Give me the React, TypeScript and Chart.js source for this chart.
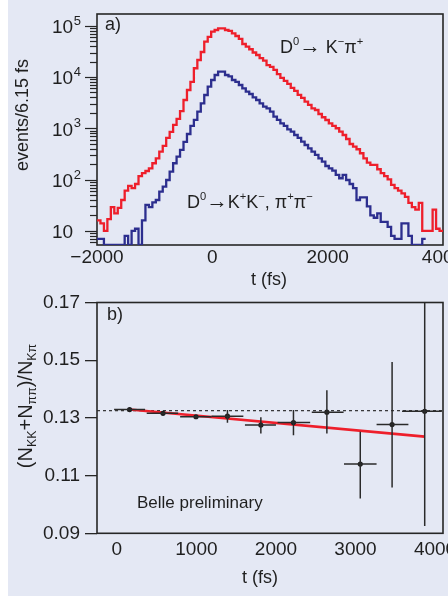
import React, { useEffect, useRef } from "react";
import { Chart, registerables } from "chart.js";

Chart.register(...registerables);

const FONT = "'Liberation Sans', Arial, Helvetica, sans-serif";
const BG = "#e4e8f4";
const INK = "#1f1f1f";
const FRAME = "#262626";
const RED = "#ee1f2b";
const BLUE = "#2c2e8e";

Chart.defaults.font.family = FONT;
Chart.defaults.color = INK;

// ---------------- Panel a: decay-time histograms ----------------
const HIST_T_MIN = -2000;
const HIST_T_MAX = 4000;
const BIN_WIDTH = 60;
const A_Y_MIN = 5.3;
const A_Y_MAX = 169000;
const A_X_TICKS = [-2000, 0, 2000, 4000];
const A_Y_LABEL_EXP = [1, 2, 3, 4, 5];

// D0 -> K- pi+ (events per bin), bins start at HIST_T_MIN
const KPI_COUNTS = [
  16, 14, 10, 17, 29, 22, 28, 40, 61, 75,
  68, 82, 117, 133, 147, 166, 208, 260, 350, 452,
  650, 850, 1160, 1520, 2150, 3560, 5580, 8000, 14800, 21450,
  30700, 48800, 60300, 76400, 82400, 89000, 89000, 82400, 78900, 71100,
  63000, 55100, 44000, 39000, 34700, 30000, 26800, 23400, 20800, 17100,
  15700, 13700, 11400, 9570, 8360, 7310, 6110, 5340, 4460, 3900,
  3300, 2850, 2450, 2270, 1900, 1640, 1450, 1250, 1110, 1000,
  859, 740, 618, 494, 438, 390, 326, 260, 213, 193,
  193, 159, 133, 117, 101, 79, 68, 61, 54, 46,
  35, 29, 26, 35, 10, 10, 10, 26, 11, 10,
];

// D0 -> K+K-, pi+pi- (events per bin)
const KKPIPI_COUNTS = [
  7, 7, 0, 0, 0, 0, 0, 0, 8, 0,
  10, 11, 0, 16, 32, 29, 36, 40, 58, 73,
  98, 143, 208, 279, 378, 541, 774, 1109, 1452, 2107,
  3070, 4457, 6470, 8740, 10940, 12680, 12680, 10940, 10230, 8740,
  8000, 6980, 6020, 5170, 4660, 4020, 3560, 3070, 2640, 2450,
  2107, 1683, 1452, 1250, 1110, 955, 859, 740, 647, 548,
  472, 407, 350, 302, 260, 223, 184, 166, 149, 123,
  106, 123, 98, 82, 68, 40, 45, 45, 30, 20,
  18, 22, 15, 15, 12, 8, 7, 7, 14, 14,
  8, 0, 0, 0, 7,
];

// ---------------- Panel b: ratio ----------------
const B_X_MIN = -250;
const B_X_MAX = 4100;
const B_Y_MIN = 0.09;
const B_Y_MAX = 0.17;
const B_X_TICKS = [0, 1000, 2000, 3000, 4000];
const B_Y_TICKS = [0.09, 0.11, 0.13, 0.15, 0.17];

const RATIO_T = [160, 580, 995, 1390, 1810, 2220, 2640, 3060, 3460, 3870];
const RATIO_T_LO = [-35, 375, 795, 1190, 1610, 2020, 2450, 2855, 3265, 3585];
const RATIO_T_HI = [355, 770, 1190, 1590, 2000, 2430, 2850, 3265, 3665, 4085];
const RATIO = [0.1329, 0.1316, 0.1304, 0.1306, 0.1275, 0.1284, 0.132, 0.114, 0.1277, 0.1323];
const RATIO_LO = [0.1327, 0.1313, 0.13, 0.1283, 0.1246, 0.124, 0.1246, 0.1021, 0.1059, 0.0925];
const RATIO_HI = [0.1331, 0.1319, 0.1308, 0.1327, 0.1302, 0.1327, 0.1396, 0.1252, 0.1494, 0.18];
const FIT_T = [160, 3870];
const FIT_R = [0.1329, 0.1235];
const AVG_RATIO = 0.1325;

type Part = { t: string; s?: "sup" | "sub"; k?: number };

function setFont(ctx: CanvasRenderingContext2D, size: number) {
  ctx.font = `${size}px ${FONT}`;
}

function text(
  ctx: CanvasRenderingContext2D,
  s: string,
  x: number,
  y: number,
  size: number,
  align: CanvasTextAlign = "left",
  baseline: CanvasTextBaseline = "alphabetic"
) {
  setFont(ctx, size);
  ctx.textAlign = align;
  ctx.textBaseline = baseline;
  ctx.fillStyle = INK;
  ctx.fillText(s, x, y);
}

function partSize(p: Part, size: number) {
  return (p.s ? size * 0.62 : size) * (p.k || 1);
}

function richWidth(ctx: CanvasRenderingContext2D, parts: Part[], size: number) {
  let w = 0;
  for (const p of parts) {
    setFont(ctx, partSize(p, size));
    w += ctx.measureText(p.t).width;
  }
  return w;
}

function drawRich(ctx: CanvasRenderingContext2D, parts: Part[], x: number, y: number, size: number) {
  let cx = x;
  ctx.textAlign = "left";
  ctx.textBaseline = "alphabetic";
  ctx.fillStyle = INK;
  for (const p of parts) {
    setFont(ctx, partSize(p, size));
    const dy = p.s === "sup" ? -size * 0.42 : p.s === "sub" ? size * 0.22 : 0;
    ctx.fillText(p.t, cx, y + dy);
    cx += ctx.measureText(p.t).width;
  }
}

function histPoints(counts: number[]) {
  const pts: { x: number; y: number }[] = [];
  counts.forEach((c, i) => {
    const y = c > 0 ? c : A_Y_MIN;
    if (i === 0) pts.push({ x: HIST_T_MIN + i * BIN_WIDTH, y });
    pts.push({ x: HIST_T_MIN + (i + 0.5) * BIN_WIDTH, y });
    if (i === counts.length - 1) pts.push({ x: HIST_T_MIN + (i + 1) * BIN_WIDTH, y });
  });
  return pts;
}

function frame(chart: any, width = 1.6) {
  const { ctx, chartArea: ca } = chart;
  ctx.save();
  ctx.strokeStyle = FRAME;
  ctx.lineWidth = width;
  ctx.strokeRect(ca.left, ca.top, ca.right - ca.left, ca.bottom - ca.top);
  ctx.restore();
}

const KPI_LABEL: Part[] = [
  { t: "D" }, { t: "0", s: "sup" }, { t: "\u2192", k: 1.2 }, { t: " K" }, { t: "\u2212", s: "sup" },
  { t: "\u03c0" }, { t: "+", s: "sup" },
];
const KKPIPI_LABEL: Part[] = [
  { t: "D" }, { t: "0", s: "sup" }, { t: "\u2192", k: 1.2 }, { t: "K" }, { t: "+", s: "sup" }, { t: "K" },
  { t: "\u2212", s: "sup" }, { t: ", \u03c0" }, { t: "+", s: "sup" }, { t: "\u03c0" }, { t: "\u2212", s: "sup" },
];
const RATIO_TITLE: Part[] = [
  { t: "(N" }, { t: "KK", s: "sub" }, { t: "+N" }, { t: "\u03c0\u03c0", s: "sub" }, { t: ")/N" },
  { t: "K\u03c0", s: "sub" },
];

const panelAPlugin = {
  id: "panelA",
  beforeDatasetsDraw(chart: any) {
    frame(chart);
  },
  afterDraw(chart: any) {
    const { ctx, chartArea: ca, scales } = chart;
    const y = scales.y;
    ctx.save();
    ctx.strokeStyle = FRAME;
    ctx.lineWidth = 1.2;
    for (let e = 0; e <= 5; e++) {
      for (let s = 1; s <= 9; s++) {
        const v = s * Math.pow(10, e);
        if (v < A_Y_MIN || v > A_Y_MAX) continue;
        const py = Math.round(y.getPixelForValue(v)) + 0.5;
        const len = s === 1 ? 12 : 7;
        ctx.beginPath();
        ctx.moveTo(ca.left - len, py);
        ctx.lineTo(ca.left, py);
        ctx.stroke();
      }
    }
    A_Y_LABEL_EXP.forEach((e) => {
      const py = y.getPixelForValue(Math.pow(10, e));
      text(ctx, "10", 44, py + 2, 19, "left", "middle");
      if (e > 1) {
        setFont(ctx, 19);
        const w = ctx.measureText("10").width;
        text(ctx, String(e), 44 + w + 0.5, py - 4.5, 13, "left", "middle");
      }
    });
    // axis titles
    text(ctx, "t (fs)", 261, 280, 18, "center", "middle");
    ctx.save();
    ctx.translate(20, 115);
    ctx.rotate(-Math.PI / 2);
    text(ctx, "events/6.15 fs", 0, 0, 18, "center", "alphabetic");
    ctx.restore();
    // annotations
    text(ctx, "a)", 97, 30, 18);
    drawRich(ctx, KPI_LABEL, 272, 53, 18);
    drawRich(ctx, KKPIPI_LABEL, 179, 208, 18);
    ctx.restore();
  },
};

const panelBPlugin = {
  id: "panelB",
  afterDatasetsDraw(chart: any) {
    const { ctx, chartArea: ca, scales } = chart;
    const x = scales.x;
    const y = scales.y;
    ctx.save();
    ctx.beginPath();
    ctx.rect(ca.left, ca.top, ca.right - ca.left, ca.bottom - ca.top);
    ctx.clip();
    ctx.strokeStyle = "#2a2a2a";
    ctx.lineWidth = 1.5;
    RATIO_T.forEach((t, i) => {
      const px = x.getPixelForValue(t);
      const py = y.getPixelForValue(RATIO[i]);
      ctx.beginPath();
      ctx.moveTo(x.getPixelForValue(RATIO_T_LO[i]), py);
      ctx.lineTo(x.getPixelForValue(RATIO_T_HI[i]), py);
      ctx.moveTo(px, y.getPixelForValue(RATIO_LO[i]));
      ctx.lineTo(px, y.getPixelForValue(RATIO_HI[i]));
      ctx.stroke();
    });
    ctx.restore();
  },
  afterDraw(chart: any) {
    const { ctx } = chart;
    frame(chart);
    ctx.save();
    text(ctx, "t (fs)", 252, 288.5, 18, "center", "middle");
    const w = richWidth(ctx, RATIO_TITLE, 20);
    ctx.save();
    ctx.translate(24, 116);
    ctx.rotate(-Math.PI / 2);
    drawRich(ctx, RATIO_TITLE, -w / 2, 0, 20);
    ctx.restore();
    text(ctx, "b)", 99, 30, 18);
    text(ctx, "Belle preliminary", 129, 218, 17);
    ctx.restore();
  },
};

function configA(): any {
  return {
    type: "line",
    data: {
      datasets: [
        {
          data: histPoints(KPI_COUNTS),
          borderColor: RED,
          borderWidth: 2.3,
          stepped: "middle",
          pointRadius: 0,
          fill: false,
        },
        {
          data: histPoints(KKPIPI_COUNTS),
          borderColor: BLUE,
          borderWidth: 2.3,
          stepped: "middle",
          pointRadius: 0,
          fill: false,
        },
      ],
    },
    options: {
      animation: false,
      responsive: false,
      events: [],
      layout: { padding: { top: 14, right: 5, left: 0, bottom: 0 } },
      plugins: { legend: { display: false }, tooltip: { enabled: false } },
      scales: {
        x: {
          type: "linear",
          min: HIST_T_MIN,
          max: HIST_T_MAX,
          afterBuildTicks: (s: any) => {
            s.ticks = A_X_TICKS.map((v) => ({ value: v }));
          },
          afterFit: (s: any) => {
            s.height = 45;
            s.paddingLeft = 0;
            s.paddingRight = 0;
          },
          grid: { display: false, drawTicks: false },
          border: { display: false },
          ticks: {
            padding: 1,
            autoSkip: false,
            maxRotation: 0,
            color: INK,
            font: { size: 19 },
            callback: (v: number) => (v < 0 ? "\u2212" + Math.abs(v) : String(v)),
          },
        },
        y: {
          type: "logarithmic",
          min: A_Y_MIN,
          max: A_Y_MAX,
          afterFit: (s: any) => {
            s.width = 89;
            s.paddingTop = 0;
            s.paddingBottom = 0;
          },
          grid: { display: false, drawTicks: false },
          border: { display: false },
          ticks: { display: false },
        },
      },
    },
    plugins: [panelAPlugin],
  };
}

function configB(): any {
  return {
    type: "line",
    data: {
      datasets: [
        {
          data: RATIO_T.map((t, i) => ({ x: t, y: RATIO[i] })),
          showLine: false,
          pointRadius: 2.6,
          pointBackgroundColor: INK,
          pointBorderColor: INK,
          pointBorderWidth: 0,
        },
        {
          data: FIT_T.map((t, i) => ({ x: t, y: FIT_R[i] })),
          borderColor: RED,
          borderWidth: 2.6,
          pointRadius: 0,
          fill: false,
        },
        {
          data: [
            { x: B_X_MIN, y: AVG_RATIO },
            { x: B_X_MAX, y: AVG_RATIO },
          ],
          borderColor: INK,
          borderWidth: 1.1,
          borderDash: [3, 3],
          pointRadius: 0,
          fill: false,
        },
      ],
    },
    options: {
      animation: false,
      responsive: false,
      events: [],
      layout: { padding: { top: 12.5, right: 5, left: 0, bottom: 0 } },
      plugins: { legend: { display: false }, tooltip: { enabled: false } },
      scales: {
        x: {
          type: "linear",
          min: B_X_MIN,
          max: B_X_MAX,
          afterBuildTicks: (s: any) => {
            s.ticks = B_X_TICKS.map((v) => ({ value: v }));
          },
          afterFit: (s: any) => {
            s.height = 62.7;
            s.paddingLeft = 0;
            s.paddingRight = 0;
          },
          grid: { display: false, drawTicks: false },
          border: { display: false },
          ticks: {
            padding: 5,
            autoSkip: false,
            maxRotation: 0,
            color: INK,
            font: { size: 19 },
            callback: (v: number) => String(v),
          },
        },
        y: {
          type: "linear",
          min: B_Y_MIN,
          max: B_Y_MAX,
          afterBuildTicks: (s: any) => {
            s.ticks = B_Y_TICKS.map((v) => ({ value: v }));
          },
          afterFit: (s: any) => {
            s.width = 89;
            s.paddingTop = 0;
            s.paddingBottom = 0;
          },
          grid: {
            display: true,
            drawOnChartArea: false,
            drawTicks: true,
            tickLength: 12,
            color: FRAME,
            lineWidth: 1.3,
          },
          border: { display: false },
          ticks: {
            padding: 5,
            color: INK,
            font: { size: 19 },
            callback: (v: number) => v.toFixed(2),
          },
        },
      },
    },
    plugins: [panelBPlugin],
  };
}

export default function App() {
  const refA = useRef<HTMLCanvasElement>(null);
  const refB = useRef<HTMLCanvasElement>(null);

  useEffect(() => {
    const a = new Chart(refA.current as HTMLCanvasElement, configA());
    const b = new Chart(refB.current as HTMLCanvasElement, configB());
    return () => {
      a.destroy();
      b.destroy();
    };
  }, []);

  return (
    <div
      style={{
        position: "fixed",
        left: 8,
        top: 0,
        width: 440,
        height: 596,
        background: BG,
      }}
    >
      <canvas
        ref={refA}
        width={440}
        height={290}
        style={{ position: "absolute", left: 0, top: 0, display: "block" }}
      />
      <canvas
        ref={refB}
        width={440}
        height={306}
        style={{ position: "absolute", left: 0, top: 290, display: "block" }}
      />
    </div>
  );
}
